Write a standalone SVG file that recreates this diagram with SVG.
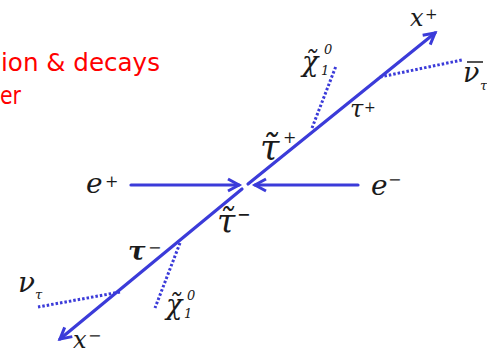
<svg xmlns="http://www.w3.org/2000/svg" width="487" height="353" viewBox="0 0 487 353">
<defs>
<style>
.ln{stroke:#3b3bd9;stroke-width:3.2;fill:none;stroke-linecap:round}
.dt{stroke:#3b3bd9;stroke-width:3;fill:none;stroke-dasharray:2.5 2}
.lb{font-family:"DejaVu Serif","Liberation Serif",serif;font-style:italic;fill:#1a1a1a}
.rd{font-family:"Comic Sans MS","DejaVu Sans",sans-serif;fill:#ff0000;font-size:24px}
</style>
<marker id="arr" markerUnits="userSpaceOnUse" markerWidth="24" markerHeight="24" viewBox="-14 -12 24 24" refX="0" refY="0" orient="auto">
<path d="M-11,-6 L0,0 L-11,6" fill="none" stroke="#3b3bd9" stroke-width="3" stroke-linejoin="miter"/>
</marker>
</defs>
<rect width="487" height="353" fill="#fff"/>
<g id="title">
<text class="rd" x="1" y="71" textLength="159" lengthAdjust="spacingAndGlyphs">ion &amp; decays</text>
<text class="rd" x="0" y="104" textLength="21" lengthAdjust="spacingAndGlyphs">er</text>
</g>
<g id="connectors">
<path class="ln" d="M248,184 L435,33" marker-end="url(#arr)"/>
<path class="ln" d="M242,189 L60,339" marker-end="url(#arr)"/>
<path class="ln" d="M131,185 L239,185" marker-end="url(#arr)"/>
<path class="ln" d="M358,185 L255,185" marker-end="url(#arr)"/>
<path class="dt" d="M380,77 L462,60"/>
<path class="dt" d="M312,128 L336,66"/>
<path class="dt" d="M180,243 L155,308"/>
<path class="dt" d="M120,292 L38,307"/>
</g>
<g id="xplus"><text class="lb" x="410" y="26" font-size="24">x<tspan font-size="15" x="425" y="19">+</tspan></text></g>
<g id="nubar"><text class="lb" x="463" y="82" font-size="27">ν<tspan font-size="13" x="480" y="90">τ</tspan></text><line x1="467" y1="62" x2="483" y2="62" stroke="#1a1a1a" stroke-width="1.5"/></g>
<g id="chi-top"><text class="lb" x="302" y="71" font-size="27">χ̃<tspan font-size="13" x="321" y="75">1</tspan><tspan font-size="13" x="324" y="54">0</tspan></text></g>
<g id="tau-plus"><text class="lb" x="350" y="117" font-size="24">τ<tspan font-size="14" x="364" y="112">+</tspan></text></g>
<g id="stau-plus"><text class="lb" x="260" y="160" font-size="35">τ̃<tspan font-size="16" x="283" y="143">+</tspan></text></g>
<g id="stau-minus"><text class="lb" x="217" y="233" font-size="33">τ̃<tspan font-size="16" x="237" y="220" font-weight="bold">−</tspan></text></g>
<g id="eplus"><text class="lb" x="86" y="193" font-size="28">e<tspan font-size="16" x="105" y="187">+</tspan></text></g>
<g id="eminus"><text class="lb" x="371" y="195" font-size="28">e<tspan font-size="16" x="388" y="185">−</tspan></text></g>
<g id="tau-minus"><text class="lb" x="128" y="260" font-size="26" font-weight="bold">τ<tspan font-size="16" font-weight="normal" x="148" y="253">−</tspan></text></g>
<g id="nu"><text class="lb" x="18" y="292" font-size="28">ν<tspan font-size="13" x="35" y="299">τ</tspan></text></g>
<g id="chi-bot"><text class="lb" x="166" y="314" font-size="27">χ̃<tspan font-size="13" x="184" y="318">1</tspan><tspan font-size="13" x="187" y="300">0</tspan></text></g>
<g id="xminus"><text class="lb" x="73" y="348" font-size="24">x<tspan font-size="16" x="88" y="341">−</tspan></text></g>
</svg>
